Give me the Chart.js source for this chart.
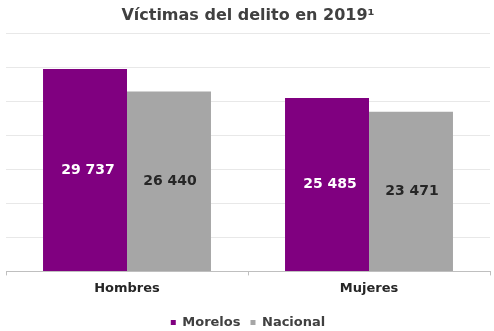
<!DOCTYPE html>
<html>
<head>
<meta charset="utf-8">
<script src="https://cdn.jsdelivr.net/npm/chart.js@4"></script>
<style>
  html, body { margin: 0; padding: 0; background: #fff; }
  #wrap { width: 494px; height: 331px; }
</style>
</head>
<body>
<div id="wrap"><canvas id="victimasChart"></canvas></div>
<script>
const categories = ['Hombres', 'Mujeres'];
const morelos = [29737, 25485];
const nacional = [26440, 23471];
const yMax = 35000;
const yStep = 5000;

const FONT = '"DejaVu Sans", Verdana, sans-serif';

// Formats 29737 as "29 737"
function fmt(v) {
    return v.toString().replace(/\B(?=(\d{3})+(?!\d))/g, ' ');
}

// Values written in the middle of each bar
const barValues = {
    id: 'barValues',
    afterDatasetsDraw(chart) {
        const ctx = chart.ctx;
        ctx.save();
        ctx.font = 'bold 14px ' + FONT;
        ctx.textAlign = 'center';
        ctx.textBaseline = 'middle';
        chart.data.datasets.forEach((ds, i) => {
            chart.getDatasetMeta(i).data.forEach((bar, j) => {
                ctx.fillStyle = i === 0 ? '#ffffff' : '#262626';
                const dx = i === 0 ? 3 : 1;
                ctx.fillText(fmt(ds.data[j]), bar.x + dx, (bar.y + bar.base) / 2);
            });
        });
        ctx.restore();
    }
};

const ctx = document.getElementById('victimasChart').getContext('2d');
new Chart(ctx, {
    type: 'bar',
    data: {
        labels: categories,
        datasets: [
            { label: 'Morelos', data: morelos, backgroundColor: '#800080' },
            { label: 'Nacional', data: nacional, backgroundColor: '#a6a6a6' }
        ]
    },
    options: {
        responsive: true,
        maintainAspectRatio: false,
        animation: false,
        categoryPercentage: 0.694,
        barPercentage: 1,
        // negative bottom padding lets the legend sit closer to the edge
        layout: { padding: { left: 6, right: 4, top: 4, bottom: -8 } },
        scales: {
            x: {
                grid: { display: true, drawOnChartArea: false, drawTicks: true, tickLength: 4, color: '#bfbfbf' },
                border: { color: '#bfbfbf' },
                ticks: { color: '#262626', font: { family: FONT, size: 13, weight: 'bold' }, padding: 5 },
                afterFit(scale) { scale.height += 5; }
            },
            y: {
                min: 0,
                max: yMax,
                ticks: { stepSize: yStep, display: false },
                grid: { color: '#e8e8e8', drawTicks: false },
                border: { display: false }
            }
        },
        plugins: {
            title: {
                display: true,
                text: 'Víctimas del delito en 2019¹',
                color: '#404040',
                font: { family: FONT, size: 16, weight: 'bold' },
                padding: { top: 2, bottom: 8 }
            },
            legend: {
                position: 'bottom',
                labels: {
                    boxWidth: 5,
                    boxHeight: 5,
                    padding: 10,
                    color: '#404040',
                    font: { family: FONT, size: 13, weight: 'bold' }
                }
            },
            tooltip: { enabled: false }
        }
    },
    plugins: [barValues]
});
</script>
</body>
</html>
